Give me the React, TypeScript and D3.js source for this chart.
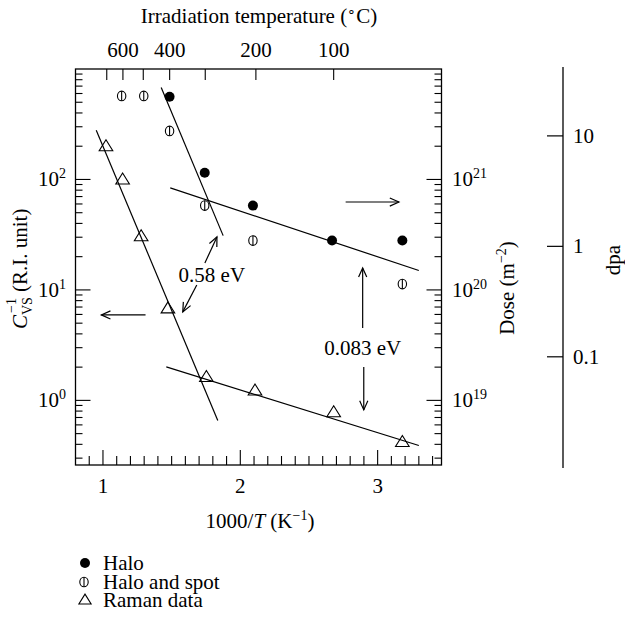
import React from "react";
import * as d3 from "d3";

// ---- data (x = 1000/T in K^-1) ----
const halo: [number, number][] = [
  [1.485, 5.6e21], [1.741, 1.15e21], [2.092, 5.8e20], [2.668, 2.8e20], [3.18, 2.8e20],
];
const haloSpot: [number, number][] = [
  [1.136, 5.7e21], [1.297, 5.7e21], [1.485, 2.75e21], [1.741, 5.8e20], [2.092, 2.8e20], [3.18, 1.13e20],
];
const raman: [number, number][] = [
  [1.022, 200], [1.143, 100], [1.278, 30.6], [1.473, 6.8], [1.753, 1.63], [2.107, 1.23], [2.68, 0.78], [3.18, 0.42],
];
const haloSteepFit: [number, number][] = [[1.424, 6.8e21], [1.875, 3.1e20]];
const haloShallowFit: [number, number][] = [[1.49, 8.4e20], [3.3, 1.5e20]];
const ramanSteepFit: [number, number][] = [[0.951, 279], [1.836, 0.658]];
const ramanShallowFit: [number, number][] = [[1.461, 2.01], [3.3, 0.39]];

const tempTicks = [700, 600, 500, 400, 300, 200, 100];
const tempLabels = [600, 400, 200, 100];
const xMajor = [1, 2, 3];
const leftExps = [0, 1, 2];
const doseExps = [19, 20, 21];
const dpaTicks = ["10", "1", "0.1"];
const legendItems = ["Halo", "Halo and spot", "Raman data"];

// annotation arrows in data coords [x, C]
const leftArrow: [number, number][] = [[1.31, 5.94], [0.988, 5.94]];
const rightArrow: [number, number][] = [[2.767, 62.5], [3.155, 62.5]];
const eV58Up: [number, number][] = [[1.742, 17.5], [1.83, 30.2]];
const eV58Down: [number, number][] = [[1.683, 11.1], [1.581, 6.33]];
const eV083Up: [number, number][] = [[2.891, 4.53], [2.891, 15.8]];
const eV083Down: [number, number][] = [[2.899, 2.01], [2.899, 0.82]];

const FONT = "'Liberation Serif', 'Times New Roman', serif";
const FS = 21;
const SUP = 14;

export default function App() {
  const L = 75.5, R = 441.5, T = 69, B = 465;
  const x = d3.scaleLinear().domain([0.8, 3.465]).range([L, R]);
  const y = d3.scaleLog().domain([0.26, 1000]).range([B, T]);
  const yDose = d3.scaleLog().domain([0.26e19, 1e22]).range([B, T]);
  const dpaF = 24.8;
  const yDpa = d3.scaleLog().domain([0.26 / dpaF, 1000 / dpaF]).range([B, T]);
  const line = d3.line<[number, number]>().x((d) => x(d[0])).y((d) => y(d[1]));
  const lineDose = d3.line<[number, number]>().x((d) => x(d[0])).y((d) => yDose(d[1]));

  const minorY: number[] = [];
  for (let e = -1; e <= 2; e++) {
    for (let m = 2; m <= 9; m++) {
      const v = m * Math.pow(10, e);
      if (v > 0.26 && v < 1000) minorY.push(v);
    }
  }
  const minorX: number[] = [];
  for (let i = 9; i <= 34; i++) {
    const v = i / 10;
    if (Math.abs(v - Math.round(v)) > 1e-6) minorX.push(v);
  }

  const arrow = (pts: [number, number][], key: string) => {
    const x1 = x(pts[0][0]), y1 = y(pts[0][1]), x2 = x(pts[1][0]), y2 = y(pts[1][1]);
    const a = Math.atan2(y2 - y1, x2 - x1);
    const h = 10, s = 0.42;
    const p1 = [x2 - h * Math.cos(a - s), y2 - h * Math.sin(a - s)];
    const p2 = [x2 - h * Math.cos(a + s), y2 - h * Math.sin(a + s)];
    return (
      <g key={key} stroke="#000" strokeWidth={1.2} fill="none">
        <line x1={x1} y1={y1} x2={x2} y2={y2} />
        <polyline points={`${p1[0]},${p1[1]} ${x2},${y2} ${p2[0]},${p2[1]}`} />
      </g>
    );
  };

  const tri = (cx: number, cy: number, k: string, s = 1) => (
    <path key={k} d={`M${cx},${cy - 6.5 * s}L${cx + 6.8 * s},${cy + 4.5 * s}L${cx - 6.8 * s},${cy + 4.5 * s}Z`} fill="none" stroke="#000" strokeWidth={1.1} />
  );
  const spot = (cx: number, cy: number, k: string) => (
    <g key={k} stroke="#000" strokeWidth={1.1}>
      <ellipse cx={cx} cy={cy} rx={4.2} ry={4.8} fill="#fff" />
      <line x1={cx} y1={cy - 4.8} x2={cx} y2={cy + 4.8} />
    </g>
  );

  return (
    <svg width={625} height={630} style={{ position: "absolute", left: 0, top: 0 }} fontFamily={FONT}>
      <rect x={0} y={0} width={625} height={630} fill="#fff" />
      {/* frame */}
      <rect x={L} y={T} width={R - L} height={B - T} fill="none" stroke="#000" strokeWidth={1.3} />

      {/* top temperature axis */}
      {tempTicks.map((c) => {
        const xx = x(1000 / (c + 273.15));
        return <line key={"tt" + c} x1={xx} x2={xx} y1={T} y2={T + 11} stroke="#000" strokeWidth={1.1} />;
      })}
      {tempLabels.map((c) => (
        <text key={"tl" + c} x={x(1000 / (c + 273.15))} y={57} fontSize={FS} textAnchor="middle">{c}</text>
      ))}
      <text x={259} y={23} fontSize={FS} textAnchor="middle">
        Irradiation temperature (<tspan fontSize={SUP} dy={-7}>∘</tspan><tspan dy={7}>C)</tspan>
      </text>

      {/* bottom axis */}
      {minorX.map((v) => (
        <line key={"mx" + v} x1={x(v)} x2={x(v)} y1={B} y2={B - 9} stroke="#000" strokeWidth={1.1} />
      ))}
      {xMajor.map((v) => (
        <g key={"Mx" + v}>
          <line x1={x(v)} x2={x(v)} y1={B} y2={B - 15} stroke="#000" strokeWidth={1.1} />
          <text x={x(v)} y={493} fontSize={FS} textAnchor="middle">{v}</text>
        </g>
      ))}
      <text x={260} y={528} fontSize={FS} textAnchor="middle">
        1000/<tspan fontStyle="italic">T</tspan> (K<tspan fontSize={SUP} dy={-8}>−1</tspan><tspan dy={8}>)</tspan>
      </text>

      {/* left & right log ticks */}
      {minorY.map((v) => (
        <g key={"my" + v} stroke="#000" strokeWidth={1.1}>
          <line x1={L} x2={L + 7} y1={y(v)} y2={y(v)} />
          <line x1={R} x2={R - 7} y1={y(v)} y2={y(v)} />
        </g>
      ))}
      {leftExps.map((e) => (
        <g key={"ly" + e}>
          <line x1={L} x2={L + 15} y1={y(Math.pow(10, e))} y2={y(Math.pow(10, e))} stroke="#000" strokeWidth={1.1} />
          <text x={66} y={y(Math.pow(10, e)) + 7} fontSize={FS} textAnchor="end">
            10<tspan fontSize={SUP} dy={-8}>{e}</tspan>
          </text>
        </g>
      ))}
      {doseExps.map((e) => (
        <g key={"ry" + e}>
          <line x1={R} x2={R - 15} y1={yDose(Math.pow(10, e))} y2={yDose(Math.pow(10, e))} stroke="#000" strokeWidth={1.1} />
          <text x={452} y={yDose(Math.pow(10, e)) + 7} fontSize={FS} textAnchor="start">
            10<tspan fontSize={SUP} dy={-8}>{e}</tspan>
          </text>
        </g>
      ))}

      {/* left label */}
      <g transform="translate(27,329) rotate(-90)">
        <text x={0} y={0} fontSize={FS}>
          <tspan fontStyle="italic">C</tspan>
          <tspan x={14} dy={5} fontSize={SUP}>VS</tspan>
          <tspan x={16} dy={-16} fontSize={SUP}>−1</tspan>
          <tspan x={37} dy={11}>(R.I. unit)</tspan>
        </text>
      </g>
      {/* dose label */}
      <text transform="translate(514,288) rotate(-90)" fontSize={FS} textAnchor="middle">
        Dose (m<tspan fontSize={SUP} dy={-8}>−2</tspan><tspan dy={8}>)</tspan>
      </text>

      {/* dpa axis */}
      <line x1={563} x2={563} y1={67} y2={468} stroke="#000" strokeWidth={1.3} />
      {dpaTicks.map((t) => (
        <g key={"dp" + t}>
          <line x1={547} x2={563} y1={yDpa(+t)} y2={yDpa(+t)} stroke="#000" strokeWidth={1.2} />
          <text x={573} y={yDpa(+t) + 7} fontSize={FS}>{t}</text>
        </g>
      ))}
      <text transform="translate(620,260) rotate(-90)" fontSize={FS} textAnchor="middle">dpa</text>

      {/* fit lines */}
      <g stroke="#000" strokeWidth={1.2} fill="none">
        <path d={lineDose(haloSteepFit) || ""} />
        <path d={lineDose(haloShallowFit) || ""} />
        <path d={line(ramanSteepFit) || ""} />
        <path d={line(ramanShallowFit) || ""} />
      </g>

      {/* data */}
      {raman.map((d, i) => tri(x(d[0]), y(d[1]), "r" + i))}
      {haloSpot.map((d, i) => spot(x(d[0]), yDose(d[1]), "s" + i))}
      {halo.map((d, i) => (
        <circle key={"h" + i} cx={x(d[0])} cy={yDose(d[1])} r={5} fill="#000" />
      ))}

      {/* annotations */}
      {arrow(leftArrow, "la")}
      {arrow(rightArrow, "ra")}
      {arrow(eV58Up, "e1")}
      {arrow(eV58Down, "e2")}
      {arrow(eV083Up, "e3")}
      {arrow(eV083Down, "e4")}
      <text x={x(1.793)} y={y(13.7) + 7} fontSize={FS} textAnchor="middle">0.58 eV</text>
      <text x={x(2.891)} y={y(2.99) + 7} fontSize={FS} textAnchor="middle">0.083 eV</text>

      {/* legend */}
      <circle cx={85} cy={563} r={5} fill="#000" />
      {spot(84, 582, "lg2")}
      {tri(85, 600, "lg3", 0.9)}
      {legendItems.map((t, i) => (
        <text key={t} x={103} y={[570, 589, 607][i]} fontSize={FS}>{t}</text>
      ))}
    </svg>
  );
}
